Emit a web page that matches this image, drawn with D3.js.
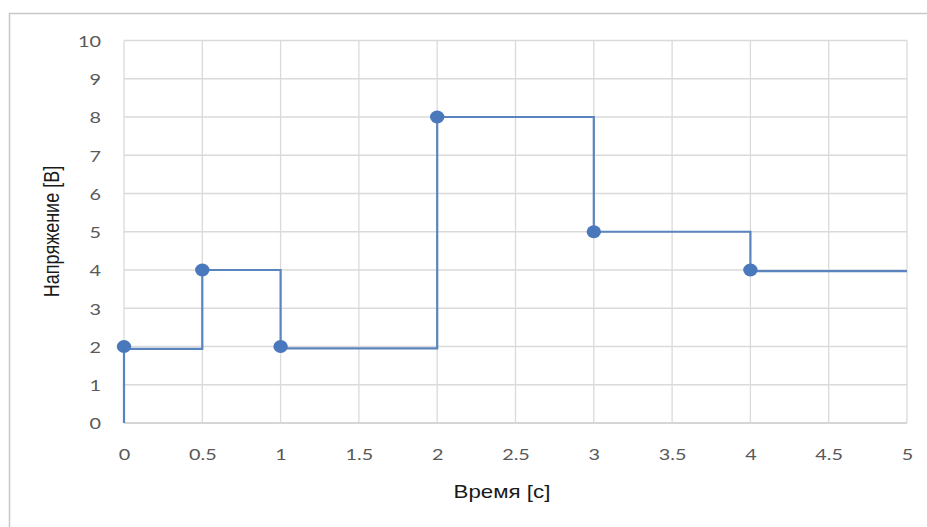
<!DOCTYPE html>
<html><head><meta charset="utf-8">
<script src="https://cdn.jsdelivr.net/npm/d3@7"></script>
<style>body{margin:0;background:#fff}svg{display:block}</style>
</head><body>
<svg id="c" width="927" height="527"></svg>
<script>
// Marker points (time, voltage)
const pointTimes = [0, 0.5, 1, 2, 3, 4];
const pointVolts = [2, 4, 2, 8, 5, 4];
// Step line vertices (time, voltage)
const stepTimes = [0, 0, 0.5, 0.5, 1, 1, 2, 2, 3, 3, 4, 4, 5];
const stepVolts = [0, 1.94, 1.94, 4, 4, 1.95, 1.95, 8, 8, 5, 5, 3.97, 3.97];
const xTicks = [0, 0.5, 1, 1.5, 2, 2.5, 3, 3.5, 4, 4.5, 5];
const yTicks = [0, 1, 2, 3, 4, 5, 6, 7, 8, 9, 10];
const xTitle = "Время [с]";
const yTitle = "Напряжение [В]";

const SX = 1.24; // horizontal stretch of the original picture
const svg = d3.select("#c");
const L = 124, R = 907, T = 40.5, B = 423;
const x = d3.scaleLinear().domain([0, 5]).range([L, R]);
const y = d3.scaleLinear().domain([0, 10]).range([B, T]);

// outer chart border
svg.append("rect").attr("x", 9.5).attr("y", 13.5).attr("width", 930).attr("height", 540)
  .attr("fill", "none").attr("stroke", "#c8c8c8").attr("stroke-width", 1.5);

// gridlines
svg.append("g").selectAll("line").data(yTicks).join("line")
  .attr("x1", L).attr("x2", R).attr("y1", d => y(d)).attr("y2", d => y(d))
  .attr("stroke", d => d === 0 ? "#c8c8c8" : "#dadada").attr("stroke-width", 1.3);
svg.append("g").selectAll("line").data(xTicks).join("line")
  .attr("y1", T).attr("y2", B).attr("x1", d => x(d)).attr("x2", d => x(d))
  .attr("stroke", "#dadada").attr("stroke-width", 1.3);

// axes (labels only)
const yAxis = d3.axisLeft(y).tickValues(yTicks).tickSize(0).tickPadding(0).tickFormat(d3.format("d"));
const gy = svg.append("g").attr("transform", `translate(${101},0)`).call(yAxis);
gy.select(".domain").remove();
gy.selectAll("text").attr("font-family", "Lato, 'Open Sans', sans-serif").attr("font-size", 16)
  .attr("fill", "#595959").attr("dy", "0.36em").attr("transform", `scale(${SX},1)`);

const xAxis = d3.axisBottom(x).tickValues(xTicks).tickSize(0).tickPadding(0).tickFormat(d => String(d));
const gx = svg.append("g").attr("transform", `translate(0,${449})`).call(xAxis);
gx.select(".domain").remove();
gx.selectAll("text").attr("font-family", "Lato, 'Open Sans', sans-serif").attr("font-size", 16)
  .attr("fill", "#595959").attr("dy", "0.71em").attr("transform", `scale(${SX},1)`);

// step line
const pts = stepTimes.map((t, i) => [t, stepVolts[i]]);
svg.append("path").datum(pts)
  .attr("d", d3.line().x(d => x(d[0])).y(d => y(d[1])))
  .attr("fill", "none").attr("stroke", "#5a84bd").attr("stroke-width", 2.2);

// markers
svg.append("g").selectAll("ellipse").data(pointTimes.map((t, i) => [t, pointVolts[i]])).join("ellipse")
  .attr("cx", d => x(d[0])).attr("cy", d => y(d[1])).attr("rx", 7.2).attr("ry", 6.4)
  .attr("fill", "#4a78bd");

// titles
svg.append("text").attr("transform", `translate(502,498) scale(${SX},1)`).attr("text-anchor", "middle")
  .attr("font-family", "'Liberation Sans', Arial, sans-serif").attr("font-size", 18).attr("fill", "#1a1a1a")
  .text(xTitle);
svg.append("text").attr("transform", `translate(58.7,231.5) scale(${SX},1) rotate(-90)`).attr("text-anchor", "middle")
  .attr("font-family", "'Liberation Sans', Arial, sans-serif").attr("font-size", 18).attr("fill", "#1a1a1a")
  .text(yTitle);
</script>
</body></html>
